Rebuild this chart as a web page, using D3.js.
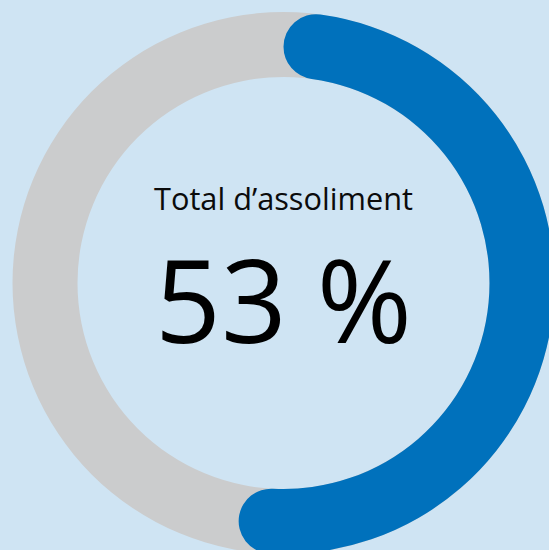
<!DOCTYPE html>
<html>
<head>
<meta charset="utf-8">
<script src="https://cdn.jsdelivr.net/npm/d3@7"></script>
<style>
  html, body { margin: 0; padding: 0; background: #cfe4f3; overflow: hidden; }
  svg { display: block; }
</style>
</head>
<body>
<svg id="chart" width="549" height="550"></svg>
<script>
'use strict'

// data
const categories = ['assolit', 'resta']
const values = [53, 47]
const title = 'Total d’assoliment'
const colors = ['#0071bc', '#cbcccd']

const svg = d3.select('#chart')
const cx = 283.5, cy = 283
const outer = 271, inner = 206

const g = svg.append('g').attr('transform', `translate(${cx}, ${cy})`)

const total = d3.sum(values)
const angle = d3.scaleLinear().domain([0, total]).range([0, 2 * Math.PI])

// background ring
g.append('path')
    .attr('d', d3.arc().innerRadius(inner).outerRadius(outer).startAngle(0).endAngle(2 * Math.PI)())
    .attr('fill', colors[1])

// progress arc with rounded ends
g.append('path')
    .attr('d', d3.arc()
        .innerRadius(inner)
        .outerRadius(outer)
        .cornerRadius((outer - inner) / 2)
        .startAngle(0)
        .endAngle(angle(values[0]))())
    .attr('fill', colors[0])

g.append('text')
    .attr('x', 0)
    .attr('y', -73)
    .attr('text-anchor', 'middle')
    .attr('font-family', '"Open Sans", sans-serif')
    .attr('font-size', 31)
    .attr('textLength', 259)
    .attr('lengthAdjust', 'spacingAndGlyphs')
    .attr('fill', '#0b0b0b')
    .text(title)

g.append('text')
    .attr('x', 0)
    .attr('y', 60)
    .attr('text-anchor', 'middle')
    .attr('font-family', '"Open Sans", sans-serif')
    .attr('font-size', 116)
    .attr('textLength', 257)
    .attr('lengthAdjust', 'spacingAndGlyphs')
    .attr('fill', '#000')
    .text(`${values[0]} %`)
</script>
</body>
</html>
